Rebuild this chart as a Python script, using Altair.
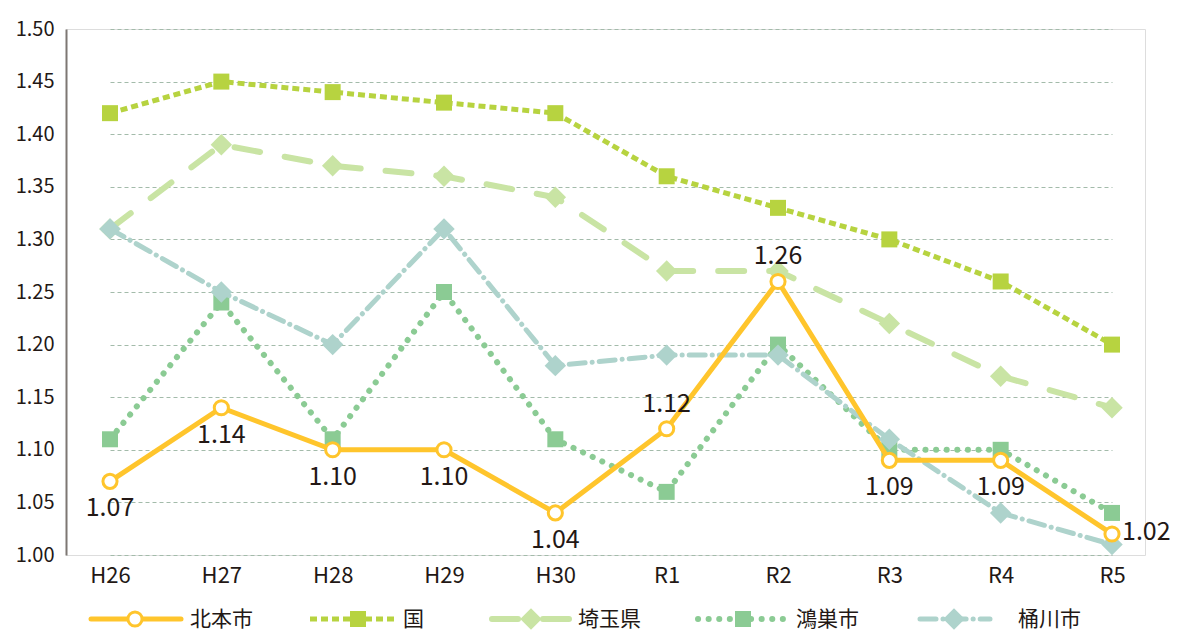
import altair as alt
import pandas as pd

years = ["H26", "H27", "H28", "H29", "H30", "R1", "R2", "R3", "R4", "R5"]
kitamoto = [1.07, 1.14, 1.10, 1.10, 1.04, 1.12, 1.26, 1.09, 1.09, 1.02]
kuni = [1.42, 1.45, 1.44, 1.43, 1.42, 1.36, 1.33, 1.30, 1.26, 1.20]
saitama = [1.31, 1.39, 1.37, 1.36, 1.34, 1.27, 1.27, 1.22, 1.17, 1.14]
konosu = [1.11, 1.24, 1.11, 1.25, 1.11, 1.06, 1.20, 1.10, 1.10, 1.04]
okegawa = [1.31, 1.25, 1.20, 1.31, 1.18, 1.19, 1.19, 1.11, 1.04, 1.01]
y_ticks = [1.00, 1.05, 1.10, 1.15, 1.20, 1.25, 1.30, 1.35, 1.40, 1.45, 1.50]

label_above = ["R1", "R2"]
label_right = ["R5"]

FONT = "Noto Sans CJK JP"
TXT = "#231815"
W, H = 1079, 526

# style per series: name, values, color, dash, width, cap, shape, size, filled
styles = [
    ("国", kuni, "#B7D340", [7, 4], 5, "butt", "square", 256, True),
    ("埼玉県", saitama, "#C9E4A4", [26, 25], 6, "round", "diamond", 460, True),
    ("鴻巣市", konosu, "#8BCB94", [0.1, 10.5], 6, "round", "square", 256, True),
    ("桶川市", okegawa, "#AED3CC", [16, 7, 0.1, 7], 5, "round", "diamond", 460, True),
    ("北本市", kitamoto, "#FFC52C", [], 5, "round", "circle", 200, False),
]

xscale = alt.Scale(domain=years, range=[44, 1046], padding=0)
yscale = alt.Scale(domain=[1.0, 1.5], nice=False, zero=False)

xenc = alt.X("year:N", sort=years, scale=xscale,
             axis=alt.Axis(title=None, labelAngle=0, ticks=False, domain=False,
                           labelFontSize=22, labelFont=FONT, labelColor=TXT,
                           labelPadding=10, grid=False))
yenc = alt.Y("value:Q", scale=yscale,
             axis=alt.Axis(title=None, values=y_ticks, format=".2f", ticks=False,
                           labelFontSize=20, labelFont=FONT, labelColor=TXT,
                           labelPadding=12, grid=True, gridColor="#A3BBAA",
                           gridDash=[4, 3], gridWidth=1, domain=True,
                           domainColor="#7D7773", domainWidth=2))

layers = []
for i, (name, vals, color, dash, sw, cap, shape, size, filled) in enumerate(styles):
    df = pd.DataFrame({"year": years, "value": vals, "series": name})
    base = alt.Chart(df)
    line_kwargs = dict(color=color, strokeWidth=sw, strokeCap=cap)
    if dash:
        line_kwargs["strokeDash"] = dash
    if i == 0:
        line = base.mark_line(**line_kwargs).encode(x=xenc, y=yenc)
    else:
        line = base.mark_line(**line_kwargs).encode(
            x=alt.X("year:N", sort=years, scale=xscale),
            y=alt.Y("value:Q", scale=yscale))
    if filled:
        pt = base.mark_point(shape=shape, size=size, filled=True, color=color,
                             opacity=1, strokeWidth=0)
    else:
        pt = base.mark_point(shape=shape, size=size, filled=True, fill="white",
                             stroke=color, strokeWidth=3, opacity=1)
    pt = pt.encode(x=alt.X("year:N", sort=years, scale=xscale),
                   y=alt.Y("value:Q", scale=yscale))
    layers += [line, pt]

# data labels for 北本市
kdf = pd.DataFrame({"year": years, "value": kitamoto})
kb = alt.Chart(kdf)
txt = dict(font=FONT, fontSize=25, color=TXT)
lab_enc = dict(x=alt.X("year:N", sort=years, scale=xscale),
               y=alt.Y("value:Q", scale=yscale),
               text=alt.Text("value:Q", format=".2f"))
below = kb.mark_text(dy=27, align="center", baseline="middle", **txt).encode(**lab_enc).transform_filter(
    ~alt.FieldOneOfPredicate(field="year", oneOf=label_above + label_right))
above = kb.mark_text(dy=-25, align="center", baseline="middle", **txt).encode(**lab_enc).transform_filter(
    alt.FieldOneOfPredicate(field="year", oneOf=label_above))
right = kb.mark_text(dx=10, dy=-2, align="left", baseline="middle", **txt).encode(**lab_enc).transform_filter(
    alt.FieldOneOfPredicate(field="year", oneOf=label_right))
layers += [below, above, right]

# custom legend (line + marker + text), in legend order
legend_order = ["北本市", "国", "埼玉県", "鴻巣市", "桶川市"]
legend_pos = {  # x0, x1, marker x, text x (pixels relative to plot)
    "北本市": (25, 115, 69, 124),
    "国": (244, 331, 292, 337),
    "埼玉県": (426, 505, 465, 512),
    "鴻巣市": (632, 720, 677, 730),
    "桶川市": (854, 924, 888, 952),
}
LY = 590
sty = {s[0]: s for s in styles}
one = alt.Chart(pd.DataFrame({"k": [0]}))
for name in legend_order:
    _, _, color, dash, sw, cap, shape, size, filled = sty[name]
    x0, x1, mx, tx = legend_pos[name]
    rk = dict(color=color, strokeWidth=sw, strokeCap=cap)
    if dash:
        rk["strokeDash"] = dash
    layers.append(one.mark_rule(**rk).encode(x=alt.value(x0), x2=alt.value(x1), y=alt.value(LY)))
    if filled:
        p = one.mark_point(shape=shape, size=size, filled=True, color=color, opacity=1, strokeWidth=0)
    else:
        p = one.mark_point(shape=shape, size=size, filled=True, fill="white", stroke=color,
                           strokeWidth=3, opacity=1)
    layers.append(p.encode(x=alt.value(mx), y=alt.value(LY)))
    layers.append(one.mark_text(text=name, font=FONT, fontSize=21, color=TXT,
                                align="left", baseline="middle").encode(
        x=alt.value(tx), y=alt.value(LY + 1)))

chart = alt.layer(*layers).properties(
    width=W, height=H,
    autosize=alt.AutoSizeParams(type="none"),
    padding={"left": 58, "top": 21, "right": 30, "bottom": 78},
).configure_view(stroke=None).configure(background="white")

chart.save("out.html", embed_options={"renderer": "svg", "actions": False})
